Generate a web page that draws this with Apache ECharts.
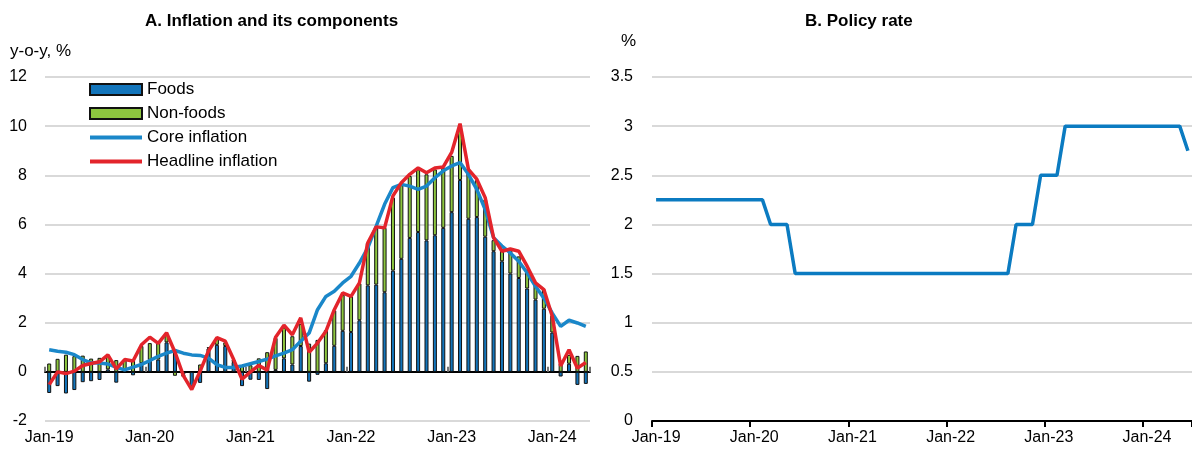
<!DOCTYPE html>
<html>
<head>
<meta charset="utf-8">
<script src="https://cdn.jsdelivr.net/npm/echarts@6/dist/echarts.min.js"></script>
<style>
  html, body { margin: 0; padding: 0; background: #fff; }
  #chart { width: 1192px; height: 450px; }
</style>
</head>
<body>
<div id="chart"></div>
<script>
var FONT = '"Liberation Sans Narrow", "Arial Narrow", "Liberation Sans", Arial, sans-serif';

// months Jan-19 .. Jun-24
var monthNames = ['Jan', 'Feb', 'Mar', 'Apr', 'May', 'Jun', 'Jul', 'Aug', 'Sep', 'Oct', 'Nov', 'Dec'];
var yearNames = ['19', '20', '21', '22', '23', '24'];

// panel A, y-o-y %, Jan-19 .. May-24
var foods = [
    -0.86, -0.58, -0.88, -0.74, -0.42, -0.38, -0.33, 0.10, -0.44, 0.05, -0.14, 0.35,
    0.49, 0.50, 1.20, 0.92, -0.10, -0.60, -0.45, 0.95, 1.10, 1.05, 0.40, -0.58,
    -0.32, -0.33, -0.70, 0.08, 0.55, 0.30, 1.05, -0.40, -0.12, 0.35, 1.06, 1.67,
    1.62, 2.10, 3.52, 3.55, 3.24, 4.12, 4.60, 5.45, 5.69, 5.35, 5.56, 5.86,
    6.50, 7.81, 6.23, 6.30, 5.50, 4.91, 4.50, 4.00, 3.82, 3.39, 2.94, 2.57,
    1.60, -0.19, 0.33, -0.53, -0.49
];
var nonFoods = [
    0.34, 0.53, 0.70, 0.64, 0.66, 0.54, 0.57, 0.55, 0.48, 0.45, 0.48, 0.70,
    0.68, 0.70, 0.30, -0.16, -0.10, 0.00, 0.30, 0.05, 0.25, 0.15, 0.10, 0.26,
    0.27, 0.55, 0.80, 1.30, 1.25, 1.15, 0.90, 1.15, 1.30, 1.35, 1.44, 1.47,
    1.45, 1.50, 1.73, 2.31, 2.62, 2.97, 3.00, 2.52, 2.55, 2.69, 2.68, 2.44,
    2.29, 2.07, 1.87, 1.50, 1.50, 0.45, 0.45, 0.95, 0.88, 0.77, 0.68, 0.78,
    0.70, 0.35, 0.36, 0.65, 0.83
];
var coreInflation = [
    0.90, 0.84, 0.80, 0.70, 0.50, 0.37, 0.36, 0.32, 0.18, 0.08, 0.19, 0.30,
    0.46, 0.63, 0.76, 0.87, 0.76, 0.69, 0.67, 0.56, 0.29, 0.18, 0.18, 0.24,
    0.33, 0.42, 0.52, 0.65, 0.76, 0.90, 1.25, 1.58, 2.53, 3.07, 3.28, 3.62,
    3.89, 4.43, 5.05, 5.93, 6.82, 7.50, 7.63, 7.56, 7.43, 7.56, 7.90, 8.18,
    8.38, 8.52, 8.04, 7.43, 6.60, 5.46, 5.12, 4.84, 4.50, 4.03, 3.48, 3.00,
    2.39, 1.85, 2.10, 1.99, 1.85
];
var headlineInflation = [
    -0.52, 0.00, -0.07, 0.03, 0.26, 0.34, 0.41, 0.69, 0.12, 0.50, 0.44, 1.10,
    1.41, 1.16, 1.59, 0.80, -0.15, -0.72, 0.03, 0.85, 1.39, 1.25, 0.50, -0.30,
    0.00, 0.26, 0.07, 1.41, 1.90, 1.51, 2.20, 0.80, 1.17, 1.65, 2.53, 3.21,
    3.07, 3.62, 5.25, 5.90, 5.86, 7.16, 7.70, 8.04, 8.30, 8.10, 8.30, 8.34,
    8.93, 10.10, 8.24, 7.84, 7.09, 5.46, 4.91, 5.00, 4.91, 4.30, 3.62, 3.35,
    2.26, 0.24, 0.90, 0.15, 0.38
];

// panel B, %, Jan-19 .. Jun-24
var policyRate = [
    2.25, 2.25, 2.25, 2.25, 2.25, 2.25, 2.25, 2.25, 2.25, 2.25, 2.25, 2.25,
    2.25, 2.25, 2.00, 2.00, 2.00, 1.50, 1.50, 1.50, 1.50, 1.50, 1.50, 1.50,
    1.50, 1.50, 1.50, 1.50, 1.50, 1.50, 1.50, 1.50, 1.50, 1.50, 1.50, 1.50,
    1.50, 1.50, 1.50, 1.50, 1.50, 1.50, 1.50, 1.50, 2.00, 2.00, 2.00, 2.50,
    2.50, 2.50, 3.00, 3.00, 3.00, 3.00, 3.00, 3.00, 3.00, 3.00, 3.00, 3.00,
    3.00, 3.00, 3.00, 3.00, 3.00, 2.75
];

var months = [];
yearNames.forEach(function (y) {
    monthNames.forEach(function (m) {
        months.push(m + '-' + y);
    });
});
var monthsA = months.slice(0, foods.length);
var monthsB = months.slice(0, policyRate.length);

var chart = echarts.init(document.getElementById('chart'));

var labelStyle = { fontFamily: FONT, fontSize: 16, color: '#000' };
var gridLine = { show: true, lineStyle: { color: '#d9d9d9', width: 2 } };

option = {
    animation: false,
    textStyle: { fontFamily: FONT },
    title: [{
        text: 'A. Inflation and its components',
        left: 140, top: 8,
        textStyle: { fontFamily: FONT, fontSize: 17, fontWeight: 'bold', color: '#000' }
    }, {
        text: 'B. Policy rate',
        left: 800, top: 8,
        textStyle: { fontFamily: FONT, fontSize: 17, fontWeight: 'bold', color: '#000' }
    }],
    legend: {
        orient: 'vertical',
        left: 83, top: 75,
        itemWidth: 52, itemHeight: 11,
        itemGap: 5,
        textStyle: { fontFamily: FONT, fontSize: 17, color: '#000', lineHeight: 19 },
        data: [
            { name: 'Foods', icon: 'rect' },
            { name: 'Non-foods', icon: 'rect' },
            { name: 'Core inflation', itemStyle: { opacity: 0 }, lineStyle: { width: 4 } },
            { name: 'Headline inflation', itemStyle: { opacity: 0 }, lineStyle: { width: 4 } }
        ]
    },
    graphic: [{
        type: 'text', left: 10, top: 43,
        style: { text: 'y-o-y, %', font: '17px ' + FONT, fill: '#000' }
    }, {
        type: 'text', left: 621, top: 33,
        style: { text: '%', font: '17px ' + FONT, fill: '#000' }
    }],
    grid: [{
        left: 45, top: 77, width: 545, height: 344
    }, {
        left: 652, top: 77, width: 547, height: 344
    }],
    xAxis: [{
        gridIndex: 0,
        type: 'category',
        data: monthsA,
        position: 'bottom',
        axisLine: { show: false, onZero: false },
        axisTick: { show: false },
        axisLabel: Object.assign({ interval: 11, margin: 9 }, labelStyle),
        splitLine: { show: false }
    }, {
        gridIndex: 0,
        type: 'category',
        data: monthsA,
        position: 'top',
        axisLine: { show: true, onZero: true, lineStyle: { color: '#000', width: 2 } },
        axisTick: { show: true, interval: 11, length: 5, lineStyle: { color: '#777', width: 2 } },
        axisLabel: { show: false }
    }, {
        gridIndex: 1,
        type: 'category',
        data: monthsB,
        position: 'bottom',
        axisLine: { show: true, lineStyle: { color: '#000', width: 2 } },
        axisTick: { show: true, interval: 11, length: 6, lineStyle: { color: '#000', width: 2 } },
        axisLabel: Object.assign({ interval: 11, margin: 9 }, labelStyle)
    }],
    yAxis: [{
        gridIndex: 0,
        type: 'value',
        min: -2, max: 12, interval: 2,
        axisLine: { show: false },
        axisTick: { show: false },
        axisLabel: Object.assign({ margin: 18 }, labelStyle),
        splitLine: gridLine
    }, {
        gridIndex: 1,
        type: 'value',
        min: 0, max: 3.5, interval: 0.5,
        axisLine: { show: false },
        axisTick: { show: false },
        axisLabel: Object.assign({ margin: 19 }, labelStyle),
        splitLine: gridLine
    }],
    series: [{
        name: 'Foods',
        type: 'bar',
        stack: 'a',
        xAxisIndex: 0, yAxisIndex: 0,
        barWidth: 4,
        itemStyle: { color: '#1375bb', borderColor: '#111', borderWidth: 1 },
        data: foods
    }, {
        name: 'Non-foods',
        type: 'bar',
        stack: 'a',
        xAxisIndex: 0, yAxisIndex: 0,
        barWidth: 4,
        itemStyle: { color: '#8dc63f', borderColor: '#111', borderWidth: 1 },
        data: nonFoods
    }, {
        name: 'Core inflation',
        type: 'line',
        xAxisIndex: 0, yAxisIndex: 0,
        symbol: 'none',
        lineStyle: { color: '#1a87c9', width: 3.5 },
        itemStyle: { color: '#1a87c9' },
        data: coreInflation
    }, {
        name: 'Headline inflation',
        type: 'line',
        xAxisIndex: 0, yAxisIndex: 0,
        symbol: 'none',
        lineStyle: { color: '#e3242b', width: 3.5 },
        itemStyle: { color: '#e3242b' },
        data: headlineInflation
    }, {
        name: 'Policy rate',
        type: 'line',
        xAxisIndex: 2, yAxisIndex: 1,
        symbol: 'none',
        lineStyle: { color: '#0b7bc1', width: 3.5 },
        data: policyRate
    }]
};

chart.setOption(option);
</script>
</body>
</html>
